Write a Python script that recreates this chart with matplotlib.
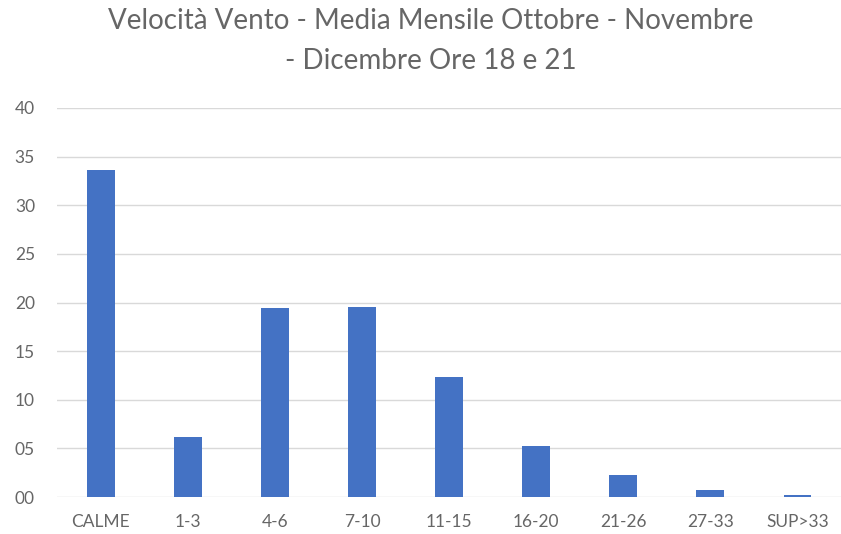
import matplotlib
matplotlib.use("Agg")
import matplotlib.pyplot as plt
from matplotlib.ticker import FuncFormatter

categories = ["CALME", "1-3", "4-6", "7-10", "11-15", "16-20", "21-26", "27-33", "SUP>33"]
values = [33.6, 6.2, 19.4, 19.5, 12.3, 5.3, 2.3, 0.7, 0.2]
yticks = [0, 5, 10, 15, 20, 25, 30, 35, 40]

plt.rcParams['font.family'] = ['Lato', 'DejaVu Sans']

fig = plt.figure(figsize=(8.41, 5.34), dpi=100)
ax = fig.add_axes([0.068, 0.069, 0.932, 0.729])

x = range(len(categories))
ax.bar(x, values, width=0.32, color="#4472C4", zorder=3)
ax.set_xlim(-0.5, len(categories) - 0.5)
ax.set_ylim(0, 40)
ax.set_yticks(yticks)
ax.yaxis.set_major_formatter(FuncFormatter(lambda v, p: f"{int(v):02d}"))
ax.set_xticks(list(x))
ax.set_xticklabels(categories)
ax.grid(axis="y", color="#D9D9D9", linewidth=1, zorder=0)
for s in ax.spines.values():
    s.set_visible(False)
ax.tick_params(axis="both", length=0, labelsize=12.5, labelcolor="#666666")
ax.tick_params(axis="y", pad=16)
ax.tick_params(axis="x", pad=12)

fig.text(0.512, 0.985, "Velocità Vento - Media Mensile Ottobre - Novembre\n- Dicembre Ore 18 e 21",
         ha="center", va="top", fontsize=20, color="#666666", linespacing=1.65)

fig.savefig("out.png", dpi=100, facecolor="white")
